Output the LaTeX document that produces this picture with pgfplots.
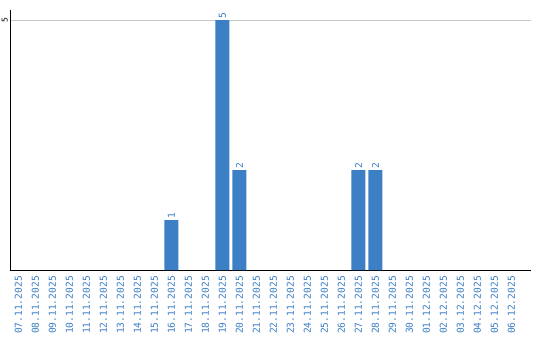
\documentclass[border=0pt]{standalone}
\usepackage{fontspec}
\setmainfont{DejaVu Sans}
\newfontfamily\monofont{DejaVu Sans Mono}
\usepackage{pgfplots}
\pgfplotsset{compat=1.18}
\definecolor{barblue}{RGB}{60,127,196}
\definecolor{lblblue}{RGB}{58,125,195}
\definecolor{gridgray}{RGB}{200,200,200}
\begin{document}
\begin{tikzpicture}
\useasboundingbox (-10bp,-70bp) rectangle (530bp,270bp);
\begin{axis}[
  at={(0,0)}, anchor=south west,
  scale only axis, width=521bp, height=260bp,
  xmin=-0.5, xmax=30.15, ymin=0, ymax=5.2,
  axis x line=bottom, axis y line=left,
  axis line style={black, line width=1pt, -},
  ybar, bar width=14bp, bar shift=0pt,
  xtick={0,...,29},
  xticklabels={07.11.2025,08.11.2025,09.11.2025,10.11.2025,11.11.2025,12.11.2025,13.11.2025,14.11.2025,15.11.2025,16.11.2025,17.11.2025,18.11.2025,19.11.2025,20.11.2025,21.11.2025,22.11.2025,23.11.2025,24.11.2025,25.11.2025,26.11.2025,27.11.2025,28.11.2025,29.11.2025,30.11.2025,01.12.2025,02.12.2025,03.12.2025,04.12.2025,05.12.2025,06.12.2025},
  xticklabel style={yshift=-6bp, rotate=90, anchor=east, font=\monofont\fontsize{9.6bp}{10bp}\selectfont, text=lblblue, inner sep=0pt},
  ytick={5},
  yticklabel style={xshift=-2bp, rotate=90, anchor=south, font=\monofont\fontsize{8bp}{8bp}\selectfont, inner sep=0pt},
  major tick length=0pt,
  ymajorgrids, grid style={gridgray, line width=0.8pt},
  nodes near coords,
  every node near coord/.append style={rotate=90, anchor=west, font=\monofont\fontsize{9.6bp}{10bp}\selectfont, text=lblblue, inner sep=1bp},
  /pgf/number format/assume math mode=true,
]
\addplot[fill=barblue, draw=none] coordinates {(9,1) (12,5) (13,2) (20,2) (21,2)};
\end{axis}
\end{tikzpicture}
\end{document}
